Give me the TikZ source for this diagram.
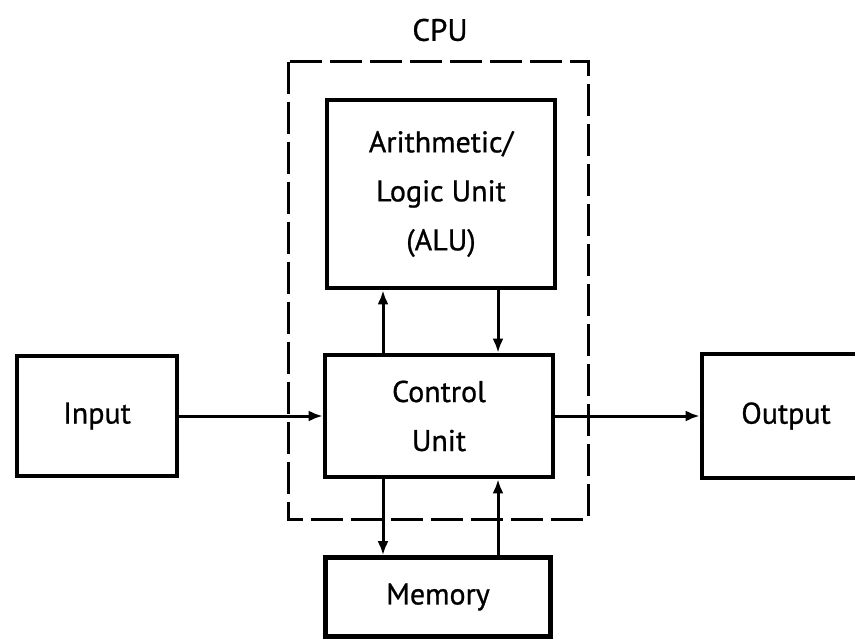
\documentclass[tikz,border=0pt]{standalone}
\usepackage{fontspec}
\setmainfont{PT Sans}[BoldFont={PT Sans}, BoldFeatures={FakeBold=0.8}]
\usetikzlibrary{arrows.meta}
\begin{document}
\begin{tikzpicture}[x=1pt,y=-1pt,
  box/.style={draw, line width=4.6pt, inner sep=0pt, align=center,
    font=\fontsize{30}{49}\selectfont\bfseries},
  link/.style={line width=3pt, -{Latex[length=14pt,width=11pt]}},
  cpuframe/.style={line width=3pt, dash pattern=on 32pt off 8pt}]
\clip (0,0) rectangle (855,639);
\fill[white] (0,0) rectangle (855,639);

% CPU boundary and its label
\draw[cpuframe] (288,62) rectangle (588,519);
\node[font=\fontsize{31}{37}\selectfont\bfseries] (cpu) at (440,30) {CPU};

% functional blocks
\node[box, minimum width=228pt, minimum height=188pt] (alu) at (441,194)
  {Arithmetic/\\Logic Unit\\(ALU)};
\node[box, minimum width=228pt, minimum height=122pt] (ctrl) at (439,416)
  {Control\\Unit};
\node[box, minimum width=160pt, minimum height=120pt] (in) at (97,416) {Input};
\node[box, minimum width=168pt, minimum height=124pt] (out) at (786,416) {Output};
\node[box, minimum width=225pt, minimum height=79pt] (mem) at (438,597) {Memory};

% vertical lanes for the paired connectors
\coordinate (laneL) at (383,0);
\coordinate (laneR) at (498,0);

% data paths
\draw[link] (ctrl.north -| laneL) -- (alu.south -| laneL);
\draw[link] (alu.south -| laneR) -- (ctrl.north -| laneR);
\draw[link] (ctrl.south -| laneL) -- (mem.north -| laneL);
\draw[link] (mem.north -| laneR) -- (ctrl.south -| laneR);
\draw[link] (in.east) -- (ctrl.west);
\draw[link] (ctrl.east) -- (out.west);
\end{tikzpicture}
\end{document}
